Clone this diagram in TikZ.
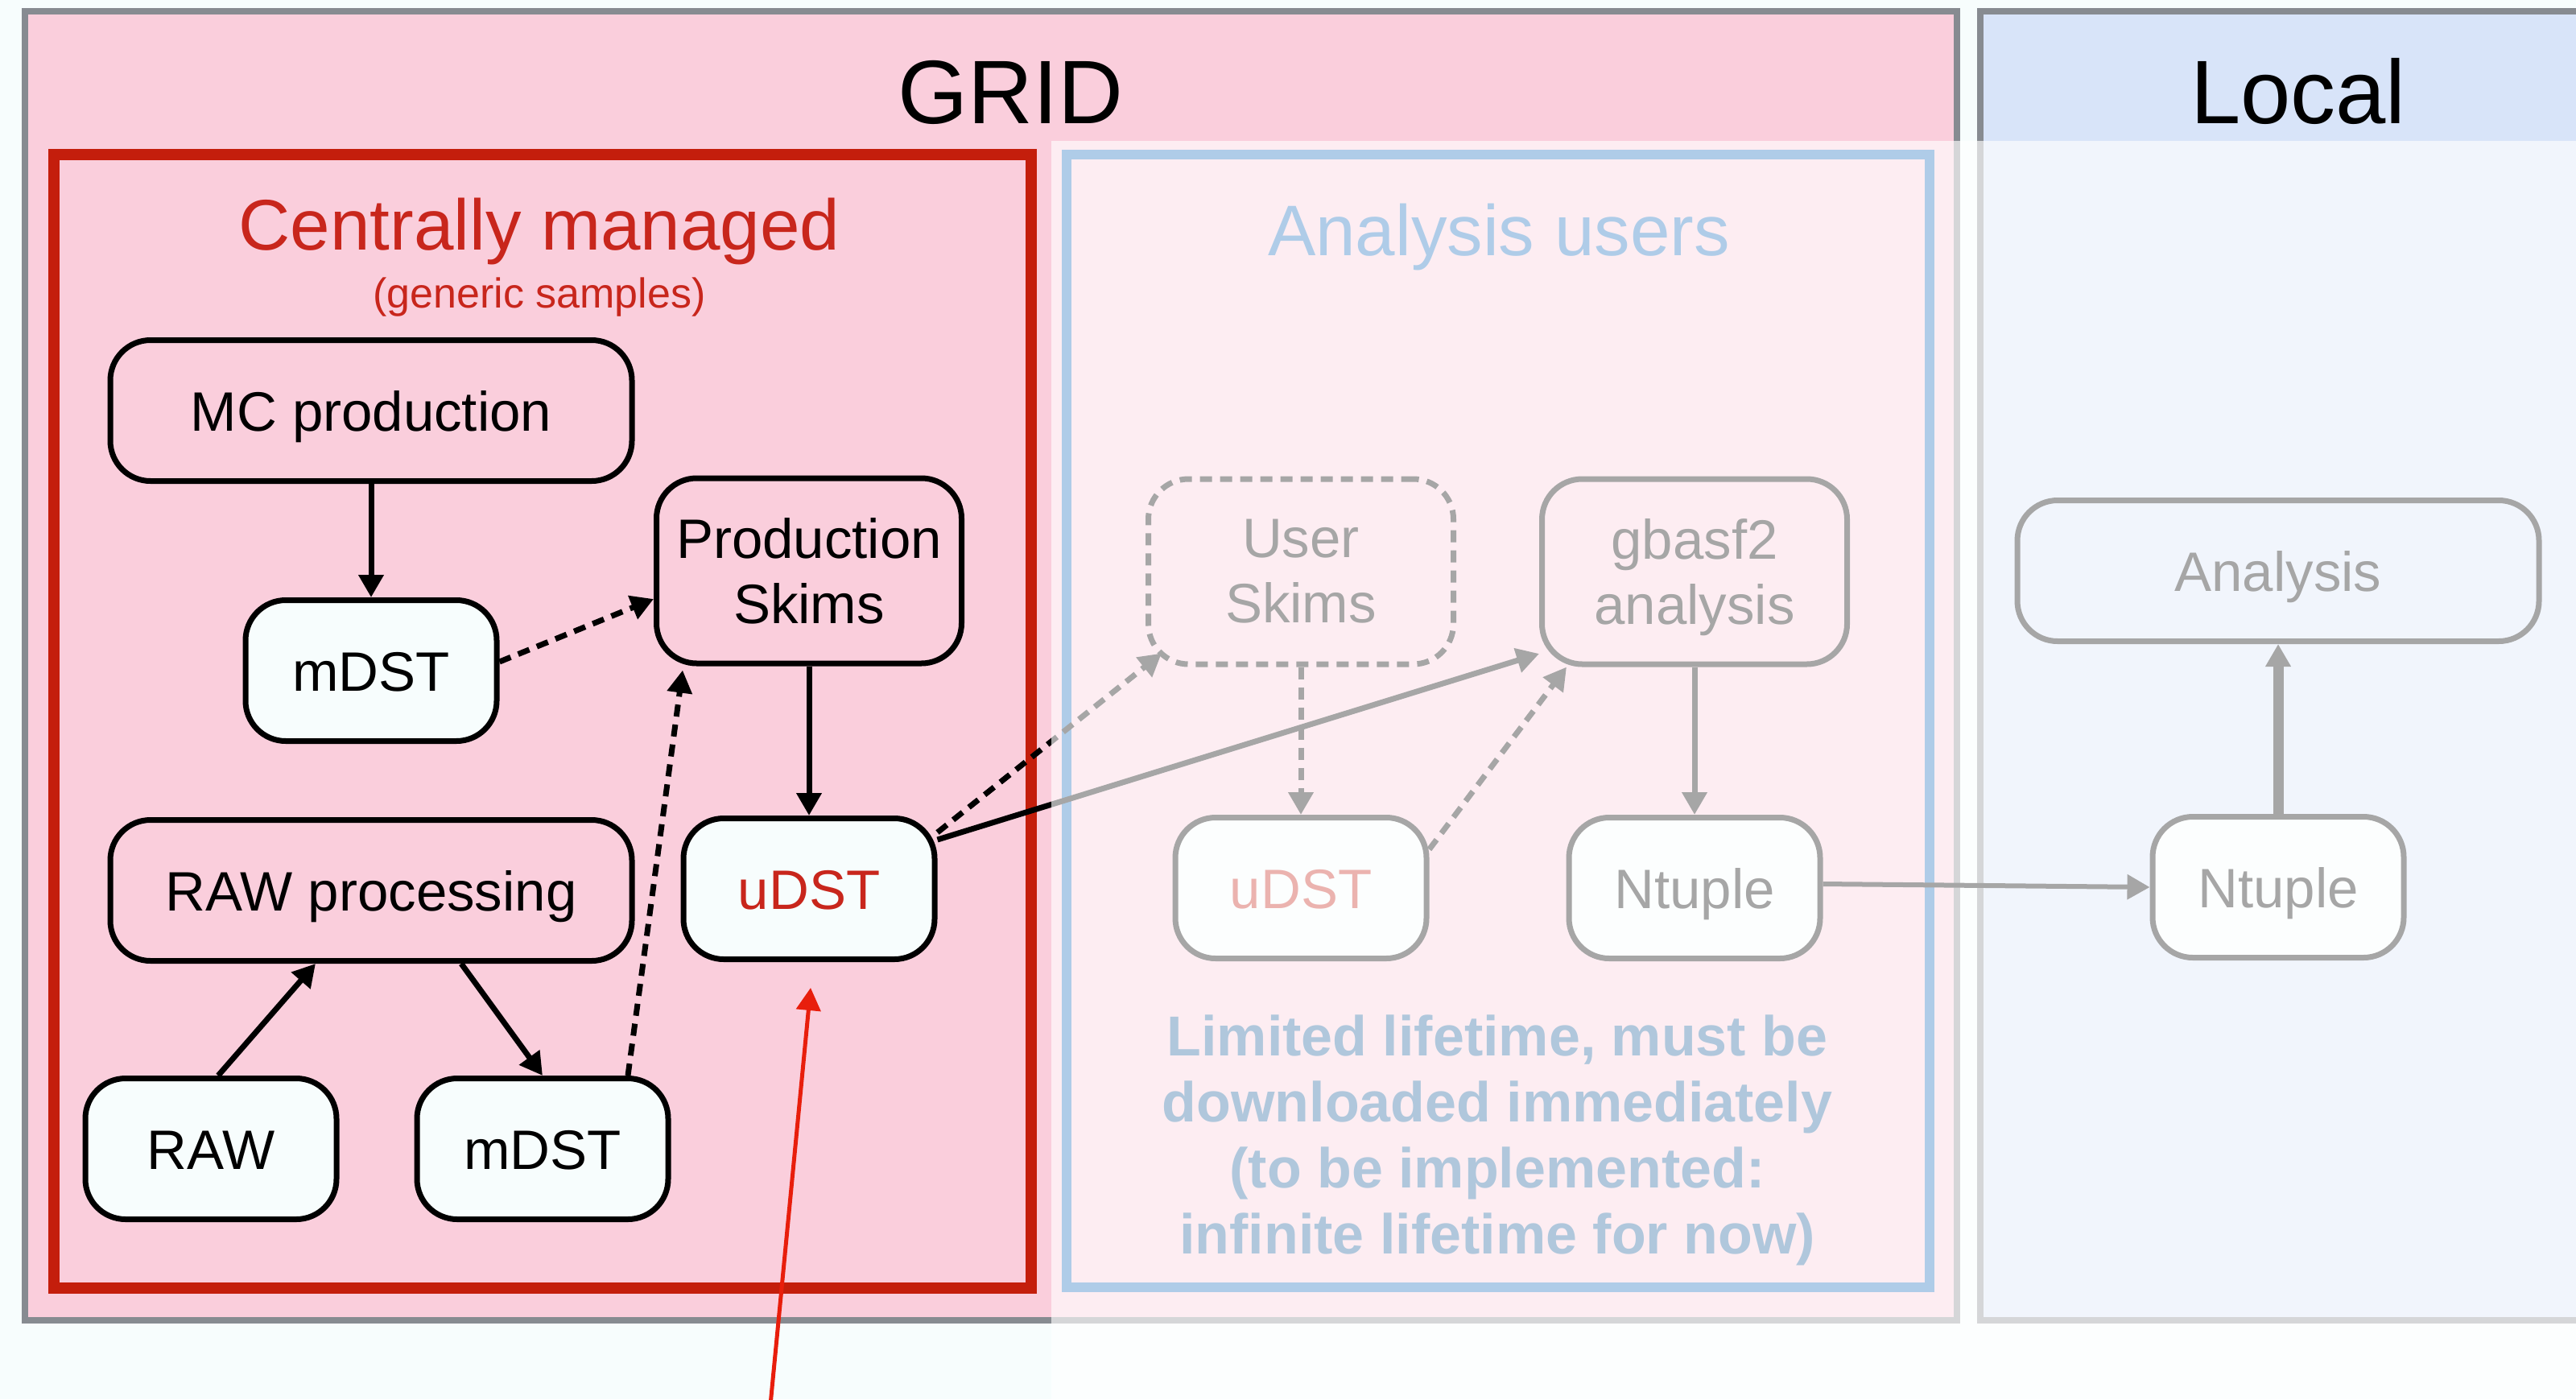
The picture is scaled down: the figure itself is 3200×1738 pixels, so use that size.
\documentclass[tikz,border=0pt]{standalone}
\usepackage{fontspec}
\setmainfont{Liberation Sans}
\usetikzlibrary{arrows.meta,calc}
\definecolor{bgc}{RGB}{247,253,253}
\definecolor{gridpink}{RGB}{250,206,220}
\definecolor{gridgray}{RGB}{135,139,145}
\definecolor{localblue}{RGB}{216,228,249}
\definecolor{cmred}{RGB}{196,30,12}
\definecolor{txtred}{RGB}{200,38,28}
\definecolor{userblue}{RGB}{26,111,191}
\definecolor{noteblue}{RGB}{30,97,155}
\definecolor{nodefill}{RGB}{247,253,253}
\definecolor{arrred}{RGB}{232,30,12}
\begin{document}
\begin{tikzpicture}[x=1pt,y=-1pt,
  nbox/.style={draw=black,line width=7pt,rounded corners=50pt,inner sep=0pt,
     font=\fontsize{69}{81}\selectfont,align=center},
  nbig/.style={nbox,minimum width=648pt,minimum height=175pt,text height=50pt,text depth=0pt},
  nsmall/.style={nbox,minimum width=312pt,minimum height=175pt,text height=50pt,text depth=0pt,fill=nodefill},
  ntall/.style={nbox,minimum width=379pt,minimum height=230pt},
  tipa/.style={-{Triangle[length=28pt,width=30pt]}},
  aflow/.style={line width=7pt,tipa},
  adash/.style={aflow,dash pattern=on 15pt off 10pt},
  ttitle/.style={anchor=base,font=\fontsize{112}{112}\selectfont},
]
\useasboundingbox (0,0) rectangle (3200,1738);
\fill[bgc] (0,0) rectangle (3200,1738);
% panels
\draw[gridgray,line width=8pt,fill=gridpink] (31,14) rectangle (2431,1640);
\draw[gridgray,line width=8pt,fill=localblue] (2460,14) rectangle (3230,1640);
\node[ttitle] (grid) at (1255,153) {GRID};
\node[ttitle] (local) at (2855,153) {Local};
% centrally managed
\draw[cmred,line width=14pt] (67,192) rectangle (1281,1600);
\node[anchor=base,text=txtred,font=\fontsize{89}{89}\selectfont] (cm) at (670,310) {Centrally managed};
\node[anchor=base,text=txtred,font=\fontsize{52}{52}\selectfont] (gs) at (670,382) {(generic samples)};
% analysis users
\draw[userblue,line width=12pt] (1325,192) rectangle (2397,1599);
\node[anchor=base,text=userblue,font=\fontsize{89}{89}\selectfont] (au) at (1862,317) {Analysis users};
\node[text=noteblue,font=\bfseries\fontsize{70}{82}\selectfont,align=center] (note) at (1860,1416)
  {Limited lifetime, must be\\downloaded immediately\\(to be implemented:\\infinite lifetime for now)};
% nodes
\node[nbig] (mc) at (461,510) {MC production};
\node[nsmall] (md1) at (461,833) {mDST};
\node[ntall] (ps) at (1005,709) {Production\\Skims};
\node[nsmall,text=txtred] (ud1) at (1005,1104) {uDST};
\node[nbig] (rp) at (461,1106) {RAW processing};
\node[nsmall] (raw) at (262,1427) {RAW};
\node[nsmall] (md2) at (674,1427) {mDST};
\node[ntall,dash pattern=on 15pt off 10pt] (us) at (1616,710) {User\\Skims};
\node[ntall] (gb) at (2105,710) {\rule{0pt}{65pt}gbasf2\\analysis};
\node[nsmall,text=txtred] (ud2) at (1616,1103) {uDST};
\node[nsmall] (nt1) at (2105,1103) {Ntuple};
\node[nbig] (an) at (2830,709) {Analysis};
\node[nsmall] (nt2) at (2830,1102) {Ntuple};
% connectors
\draw[aflow] (mc) -- (md1);
\draw[adash] ([yshift=11pt]md1.east) -- ([yshift=-35pt]ps.west);
\draw[aflow] (ps) -- (ud1);
\draw[aflow] ([xshift=9pt]raw.north) -- ([xshift=-69pt]rp.south);
\draw[aflow] ([xshift=112pt]rp.south) -- (md2.north);
\draw[adash] ([xshift=106pt]md2.north) -- ([xshift=-157pt,yshift=-5pt]ps.south);
\draw[adash] ([yshift=70pt]ud1.east) -- ([xshift=20pt,yshift=17pt]us.south west);
\draw[aflow] ([yshift=61pt]ud1.east) -- ([yshift=-102pt]gb.west);
\draw[adash] (us) -- (ud2);
\draw[adash] ([yshift=48pt]ud2.east) -- ([xshift=-159pt]gb.south);
\draw[aflow] (gb) -- (nt1);
\draw[line width=6pt,tipa] ([yshift=5pt]nt1.east) -- (nt2.west);
\draw[line width=13pt,tipa] (nt2) -- (an);
\coordinate (rstart) at (957,1745);
\coordinate (rend) at (1007,1227);
\draw[arrred,line width=5pt,tipa] (rstart) -- (rend);
% fading overlay
\fill[white,fill opacity=0.65] (1306,175) rectangle (3210,1745);
\end{tikzpicture}
\end{document}
